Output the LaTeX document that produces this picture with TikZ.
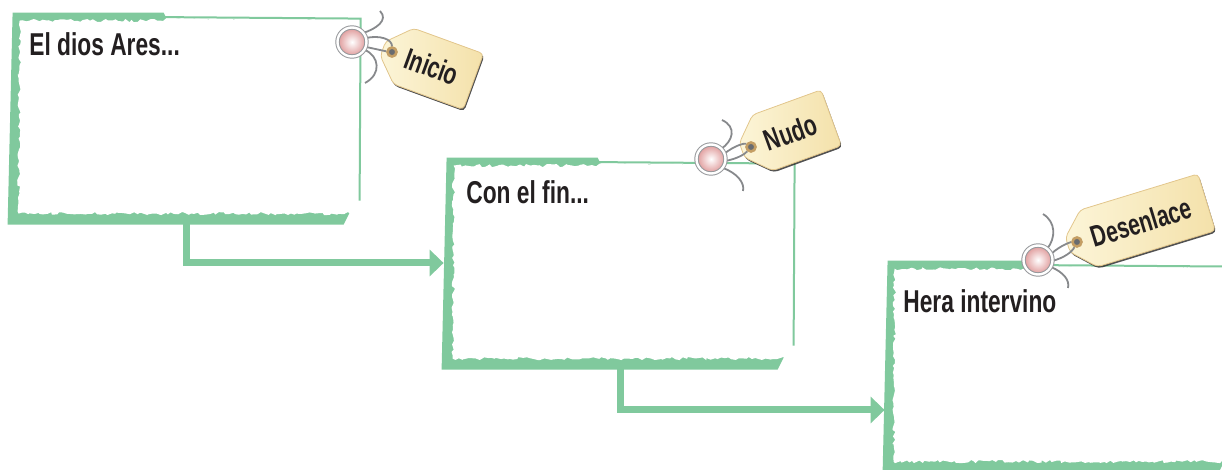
\documentclass[tikz,border=0pt]{standalone}
\usepackage{fontspec}
\usepackage{tikz}
\usetikzlibrary{calc,shapes.misc,shadows,decorations.pathmorphing,arrows.meta}

\newfontfamily\titulofont[FakeStretch=0.72]{Liberation Sans}
\newfontfamily\tagfont[FakeStretch=0.7]{Liberation Sans}

\definecolor{verde}{RGB}{128,201,157}
\definecolor{texto}{RGB}{35,31,32}
\definecolor{crema1}{RGB}{252,245,216}
\definecolor{crema2}{RGB}{244,225,170}
\definecolor{cremaborde}{RGB}{226,198,140}
\definecolor{rosa}{RGB}{222,150,150}
\definecolor{alambre}{RGB}{135,137,140}
\definecolor{anillo}{RGB}{150,152,155}
\definecolor{bronce}{RGB}{196,158,100}
\definecolor{hueco}{RGB}{105,108,112}

% marco verde rasgado alrededor de una caja
\newcommand{\marco}[1]{%
  \begin{scope}[shift={(#1.north west)}]
    \fill[verde] (3,0) -- (154,0) -- (157,6) -- (340,7) -- (340,200) -- (334,212) -- (-2,212) -- cycle;
    \fill[white, rugoso] (10,8) -- (150,8) -- (160,5) -- (362,6) -- (362,201) -- (322,201)
      -- (9,201) -- cycle;
    \draw[verde, line width=1pt] (154,4.5) -- (351,6) -- (350,188);
  \end{scope}}

\begin{document}
\begin{tikzpicture}
    [x=0.5pt, y=-0.5pt,
    caja/.style={minimum width=176pt, minimum height=105pt, inner sep=0pt},
    rugoso/.style={decorate, decoration={random steps, segment length=1.6pt, amplitude=0.8pt}},
    titulo/.style={anchor=base west, inner sep=0pt, text=texto,
      font=\titulofont\bfseries\fontsize{15.8}{18}\selectfont},
    flecha/.style={verde, line width=3.5pt, -{Triangle[length=7pt,width=13pt]}},
    etiqueta/.style={chamfered rectangle, chamfered rectangle corners={north west, south west},
      chamfered rectangle xsep=5pt, chamfered rectangle ysep=6pt,
      minimum height=24pt, minimum width=47pt, anchor=west, rounded corners=2pt,
      left color=crema1, right color=crema2, draw=cremaborde, line width=0.4pt,
      drop shadow={shadow xshift=0.5pt, shadow yshift=-0.9pt, fill=black!80, opacity=0.85},
      execute at begin node={\hspace*{4pt}},
      text=texto, font=\tagfont\bfseries\fontsize{15}{17}\selectfont},
    agujero/.style={circle, fill=hueco, draw=bronce, line width=1.3pt, minimum size=4.5pt, inner sep=0pt},
    chincheta/.style={circle, minimum size=14.5pt, inner sep=0pt, inner color=white, outer color=rosa,
      draw=anillo, line width=0.5pt, double=white, double distance=1.2pt},
    hilo/.style={alambre, line width=0.9pt}]

\useasboundingbox (0,0) rectangle (1222,470);
\clip (0,0) rectangle (1222,470);
\pgfmathsetseed{7}

%cajas
\node[caja] (inicio) at (186,118) {};
\node[caja] (nudo) at (620,263) {};
\node[caja] (desenlace) at (1061,366) {};
\marco{inicio}
\marco{nudo}
\marco{desenlace}

%flechas
\draw[flecha] (inicio.south) |- (nudo.west);
\draw[flecha] (nudo.south) |- ([yshift=-22pt]desenlace.west);

%textos
\node[titulo] (t1) at (29,56) {El dios Ares...};
\node[titulo] (t2) at (466,204) {Con el fin...};
\node[titulo] (t3) at (903,313) {Hera intervino};

%etiqueta Inicio
\node[etiqueta, rotate=-20] (tinicio) at (382.6,48.6) {Inicio};
\node[agujero] (hinicio) at ($(tinicio.west)!5pt!(tinicio.east)$) {};
\coordinate (cinicio) at (352,42);
\begin{scope}[shift={(cinicio)}]
  \draw[hilo] (11,-9) .. controls (24,-13) and (37,-22) .. (28,-31);
  \draw[hilo] (13,8) .. controls (27,14) and (30,32) .. (13,41);
  \draw[hilo] (14,-4) .. controls (28,-7) and (40,-3) .. (hinicio);
  \draw[hilo] (14,5) .. controls (24,7) and (32,9) .. (hinicio);
\end{scope}
\node[chincheta] (pinicio) at (cinicio) {};

%etiqueta Nudo
\node[etiqueta, rotate=20] (tnudo) at (741.6,150.4) {Nudo};
\node[agujero] (hnudo) at ($(tnudo.west)!5pt!(tnudo.east)$) {};
\coordinate (cnudo) at (711,159);
\begin{scope}[shift={(cnudo)}]
  \draw[hilo] (10,-10) .. controls (22,-18) and (26,-32) .. (11,-39);
  \draw[hilo] (12,9) .. controls (26,14) and (34,24) .. (32,32);
  \draw[hilo] (13,-5) .. controls (24,-14) and (34,-16) .. (hnudo);
  \draw[hilo] (14,2) .. controls (26,0) and (34,-5) .. (hnudo);
\end{scope}
\node[chincheta] (pnudo) at (cnudo) {};

%etiqueta Desenlace
\node[etiqueta, rotate=17, minimum width=65pt] (tdesenlace) at (1067.4,244.9) {Desenlace};
\node[agujero] (hdesenlace) at ($(tdesenlace.west)!5pt!(tdesenlace.east)$) {};
\coordinate (cdesenlace) at (1038,260);
\begin{scope}[shift={(cdesenlace)}]
  \draw[hilo] (9,-11) .. controls (18,-22) and (18,-38) .. (5,-46);
  \draw[hilo] (13,7) .. controls (25,12) and (32,20) .. (30,28);
  \draw[hilo] (13,-6) .. controls (24,-16) and (34,-18) .. (hdesenlace);
  \draw[hilo] (14,1) .. controls (26,-2) and (34,-8) .. (hdesenlace);
\end{scope}
\node[chincheta] (pdesenlace) at (cdesenlace) {};

\end{tikzpicture}
\end{document}
